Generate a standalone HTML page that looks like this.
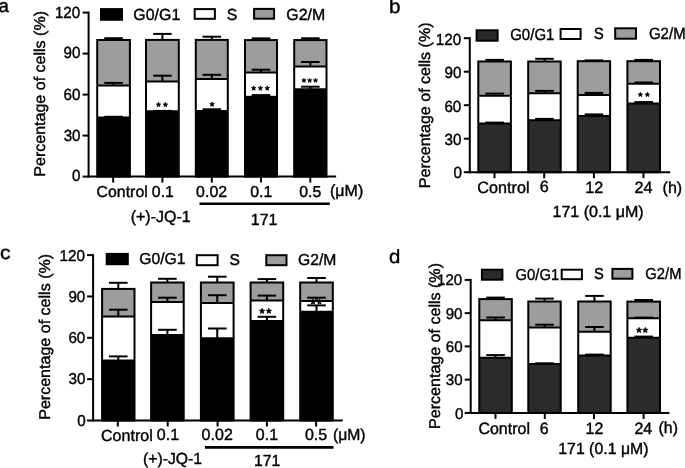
<!DOCTYPE html>
<html><head><meta charset="utf-8"><style>
html,body{margin:0;padding:0;background:#fff;}
body{width:685px;height:468px;overflow:hidden;}
svg{display:block;font-family:"Liberation Sans", sans-serif;filter:grayscale(1);} text{stroke:#000;stroke-width:4.0px;text-rendering:geometricPrecision;}
</style></head><body>
<svg width="685" height="468" viewBox="0 0 685 468">
<rect width="685" height="468" fill="#fff"/>
<rect x="97.20" y="117.50" width="32.70" height="59.10" fill="#000"/>
<rect x="97.20" y="85.60" width="32.70" height="31.90" fill="#fff"/>
<rect x="97.20" y="40.00" width="32.70" height="45.60" fill="#9d9d9d"/>
<rect x="146.00" y="111.30" width="32.80" height="65.30" fill="#000"/>
<rect x="146.00" y="81.60" width="32.80" height="29.70" fill="#fff"/>
<rect x="146.00" y="39.90" width="32.80" height="41.70" fill="#9d9d9d"/>
<rect x="195.80" y="111.00" width="32.00" height="65.60" fill="#000"/>
<rect x="195.80" y="79.00" width="32.00" height="32.00" fill="#fff"/>
<rect x="195.80" y="39.90" width="32.00" height="39.10" fill="#9d9d9d"/>
<rect x="245.00" y="96.80" width="32.00" height="79.80" fill="#000"/>
<rect x="245.00" y="72.50" width="32.00" height="24.30" fill="#fff"/>
<rect x="245.00" y="40.10" width="32.00" height="32.40" fill="#9d9d9d"/>
<rect x="294.20" y="89.20" width="32.30" height="87.40" fill="#000"/>
<rect x="294.20" y="66.50" width="32.30" height="22.70" fill="#fff"/>
<rect x="294.20" y="40.10" width="32.30" height="26.40" fill="#9d9d9d"/>
<polygon points="158.51,102.35 159.14,103.86 160.77,103.99 159.53,105.06 159.91,106.65 158.51,105.80 157.11,106.65 157.49,105.06 156.25,103.99 157.88,103.86" fill="#000" stroke="#000" stroke-width="0.7" stroke-linejoin="round"/>
<polygon points="165.39,102.35 166.02,103.86 167.65,103.99 166.41,105.06 166.79,106.65 165.39,105.80 163.99,106.65 164.37,105.06 163.13,103.99 164.76,103.86" fill="#000" stroke="#000" stroke-width="0.7" stroke-linejoin="round"/>
<polygon points="212.12,101.85 212.77,103.43 214.48,103.57 213.18,104.68 213.58,106.35 212.12,105.46 210.65,106.35 211.05,104.68 209.75,103.57 211.46,103.43" fill="#000" stroke="#000" stroke-width="0.7" stroke-linejoin="round"/>
<polygon points="253.66,85.85 254.31,87.40 255.98,87.53 254.70,88.62 255.09,90.25 253.66,89.38 252.23,90.25 252.62,88.62 251.35,87.53 253.02,87.40" fill="#000" stroke="#000" stroke-width="0.7" stroke-linejoin="round"/>
<polygon points="260.45,85.85 261.09,87.40 262.76,87.53 261.49,88.62 261.88,90.25 260.45,89.38 259.02,90.25 259.41,88.62 258.14,87.53 259.81,87.40" fill="#000" stroke="#000" stroke-width="0.7" stroke-linejoin="round"/>
<polygon points="267.24,85.85 267.88,87.40 269.55,87.53 268.28,88.62 268.67,90.25 267.24,89.38 265.81,90.25 266.20,88.62 264.92,87.53 266.59,87.40" fill="#000" stroke="#000" stroke-width="0.7" stroke-linejoin="round"/>
<polygon points="303.91,78.25 304.50,79.69 306.06,79.82 304.88,80.83 305.24,82.35 303.91,81.54 302.57,82.35 302.94,80.83 301.75,79.82 303.31,79.69" fill="#000" stroke="#000" stroke-width="0.7" stroke-linejoin="round"/>
<polygon points="309.70,78.25 310.30,79.69 311.86,79.82 310.67,80.83 311.03,82.35 309.70,81.54 308.37,82.35 308.73,80.83 307.54,79.82 309.10,79.69" fill="#000" stroke="#000" stroke-width="0.7" stroke-linejoin="round"/>
<polygon points="315.49,78.25 316.09,79.69 317.65,79.82 316.46,80.83 316.83,82.35 315.49,81.54 314.16,82.35 314.52,80.83 313.34,79.82 314.90,79.69" fill="#000" stroke="#000" stroke-width="0.7" stroke-linejoin="round"/>
<rect x="97.20" y="40.00" width="32.70" height="136.60" fill="none" stroke="#000" stroke-width="2.0"/>
<line x1="97.20" y1="85.60" x2="129.90" y2="85.60" stroke="#000" stroke-width="2.0"/>
<line x1="97.20" y1="117.50" x2="129.90" y2="117.50" stroke="#000" stroke-width="2.0"/>
<line x1="113.55" y1="40.00" x2="113.55" y2="38.20" stroke="#000" stroke-width="2.0"/>
<line x1="104.25" y1="38.20" x2="122.85" y2="38.20" stroke="#000" stroke-width="2.0"/>
<line x1="113.55" y1="85.60" x2="113.55" y2="82.90" stroke="#000" stroke-width="2.0"/>
<line x1="104.25" y1="82.90" x2="122.85" y2="82.90" stroke="#000" stroke-width="2.0"/>
<line x1="113.55" y1="117.50" x2="113.55" y2="116.80" stroke="#000" stroke-width="2.0"/>
<line x1="104.25" y1="116.80" x2="122.85" y2="116.80" stroke="#000" stroke-width="2.0"/>
<rect x="146.00" y="39.90" width="32.80" height="136.70" fill="none" stroke="#000" stroke-width="2.0"/>
<line x1="146.00" y1="81.60" x2="178.80" y2="81.60" stroke="#000" stroke-width="2.0"/>
<line x1="146.00" y1="111.30" x2="178.80" y2="111.30" stroke="#000" stroke-width="2.0"/>
<line x1="162.40" y1="39.90" x2="162.40" y2="33.90" stroke="#000" stroke-width="2.0"/>
<line x1="153.10" y1="33.90" x2="171.70" y2="33.90" stroke="#000" stroke-width="2.0"/>
<line x1="162.40" y1="81.60" x2="162.40" y2="75.70" stroke="#000" stroke-width="2.0"/>
<line x1="153.10" y1="75.70" x2="171.70" y2="75.70" stroke="#000" stroke-width="2.0"/>
<line x1="162.40" y1="111.30" x2="162.40" y2="110.90" stroke="#000" stroke-width="2.0"/>
<line x1="153.10" y1="110.90" x2="171.70" y2="110.90" stroke="#000" stroke-width="2.0"/>
<rect x="195.80" y="39.90" width="32.00" height="136.70" fill="none" stroke="#000" stroke-width="2.0"/>
<line x1="195.80" y1="79.00" x2="227.80" y2="79.00" stroke="#000" stroke-width="2.0"/>
<line x1="195.80" y1="111.00" x2="227.80" y2="111.00" stroke="#000" stroke-width="2.0"/>
<line x1="211.80" y1="39.90" x2="211.80" y2="36.70" stroke="#000" stroke-width="2.0"/>
<line x1="202.50" y1="36.70" x2="221.10" y2="36.70" stroke="#000" stroke-width="2.0"/>
<line x1="211.80" y1="79.00" x2="211.80" y2="74.80" stroke="#000" stroke-width="2.0"/>
<line x1="202.50" y1="74.80" x2="221.10" y2="74.80" stroke="#000" stroke-width="2.0"/>
<line x1="211.80" y1="111.00" x2="211.80" y2="109.30" stroke="#000" stroke-width="2.0"/>
<line x1="202.50" y1="109.30" x2="221.10" y2="109.30" stroke="#000" stroke-width="2.0"/>
<rect x="245.00" y="40.10" width="32.00" height="136.50" fill="none" stroke="#000" stroke-width="2.0"/>
<line x1="245.00" y1="72.50" x2="277.00" y2="72.50" stroke="#000" stroke-width="2.0"/>
<line x1="245.00" y1="96.80" x2="277.00" y2="96.80" stroke="#000" stroke-width="2.0"/>
<line x1="261.00" y1="40.10" x2="261.00" y2="38.40" stroke="#000" stroke-width="2.0"/>
<line x1="251.70" y1="38.40" x2="270.30" y2="38.40" stroke="#000" stroke-width="2.0"/>
<line x1="261.00" y1="72.50" x2="261.00" y2="69.70" stroke="#000" stroke-width="2.0"/>
<line x1="251.70" y1="69.70" x2="270.30" y2="69.70" stroke="#000" stroke-width="2.0"/>
<line x1="261.00" y1="96.80" x2="261.00" y2="95.10" stroke="#000" stroke-width="2.0"/>
<line x1="251.70" y1="95.10" x2="270.30" y2="95.10" stroke="#000" stroke-width="2.0"/>
<rect x="294.20" y="40.10" width="32.30" height="136.50" fill="none" stroke="#000" stroke-width="2.0"/>
<line x1="294.20" y1="66.50" x2="326.50" y2="66.50" stroke="#000" stroke-width="2.0"/>
<line x1="294.20" y1="89.20" x2="326.50" y2="89.20" stroke="#000" stroke-width="2.0"/>
<line x1="310.35" y1="40.10" x2="310.35" y2="38.30" stroke="#000" stroke-width="2.0"/>
<line x1="301.05" y1="38.30" x2="319.65" y2="38.30" stroke="#000" stroke-width="2.0"/>
<line x1="310.35" y1="66.50" x2="310.35" y2="62.00" stroke="#000" stroke-width="2.0"/>
<line x1="301.05" y1="62.00" x2="319.65" y2="62.00" stroke="#000" stroke-width="2.0"/>
<line x1="310.35" y1="89.20" x2="310.35" y2="86.70" stroke="#000" stroke-width="2.0"/>
<line x1="301.05" y1="86.70" x2="319.65" y2="86.70" stroke="#000" stroke-width="2.0"/>
<line x1="88.60" y1="11.60" x2="88.60" y2="177.60" stroke="#000" stroke-width="2.0"/>
<line x1="87.60" y1="176.60" x2="336.10" y2="176.60" stroke="#000" stroke-width="2.0"/>
<line x1="82.60" y1="176.60" x2="88.60" y2="176.60" stroke="#000" stroke-width="2.0"/>
<line x1="82.60" y1="135.60" x2="88.60" y2="135.60" stroke="#000" stroke-width="2.0"/>
<line x1="82.60" y1="94.60" x2="88.60" y2="94.60" stroke="#000" stroke-width="2.0"/>
<line x1="82.60" y1="53.60" x2="88.60" y2="53.60" stroke="#000" stroke-width="2.0"/>
<line x1="82.60" y1="12.60" x2="88.60" y2="12.60" stroke="#000" stroke-width="2.0"/>
<line x1="113.20" y1="176.60" x2="113.20" y2="182.60" stroke="#000" stroke-width="2.0"/>
<line x1="162.40" y1="176.60" x2="162.40" y2="182.60" stroke="#000" stroke-width="2.0"/>
<line x1="211.80" y1="176.60" x2="211.80" y2="182.60" stroke="#000" stroke-width="2.0"/>
<line x1="261.00" y1="176.60" x2="261.00" y2="182.60" stroke="#000" stroke-width="2.0"/>
<line x1="310.30" y1="176.60" x2="310.30" y2="182.60" stroke="#000" stroke-width="2.0"/>
<rect x="101.00" y="9.10" width="21.00" height="10.70" fill="#000" stroke="#000" stroke-width="2.0"/>
<rect x="194.70" y="9.10" width="20.20" height="9.70" fill="#fff" stroke="#000" stroke-width="2.0"/>
<rect x="254.10" y="8.90" width="20.00" height="9.80" fill="#9d9d9d" stroke="#000" stroke-width="2.0"/>
<text transform="translate(-1.39,11.92) scale(0.10038,0.10000)" font-size="186.18" fill="#000">a</text>
<text transform="translate(54.91,17.76) scale(0.09400,0.10000)" font-size="161.50">120</text>
<text transform="translate(63.60,58.46) scale(0.09400,0.10000)" font-size="161.50">90</text>
<text transform="translate(63.57,99.51) scale(0.09400,0.10000)" font-size="161.50">60</text>
<text transform="translate(63.66,140.61) scale(0.09400,0.10000)" font-size="161.50">30</text>
<text transform="translate(71.98,181.26) scale(0.09400,0.10000)" font-size="161.50">0</text>
<text transform="translate(133.34,20.20) scale(0.09900,0.10000)" font-size="161.00">G0/G1</text>
<text transform="translate(226.79,19.74) scale(0.09900,0.10000)" font-size="161.00">S</text>
<text transform="translate(286.27,20.05) scale(0.09900,0.10000)" font-size="161.00">G2/M</text>
<text transform="translate(96.50,196.98) scale(0.10000,0.10000)" font-size="159.00">Control</text>
<text transform="translate(151.85,196.97) scale(0.10000,0.10000)" font-size="159.00">0.1</text>
<text transform="translate(196.12,197.42) scale(0.10000,0.10000)" font-size="159.00">0.02</text>
<text transform="translate(250.25,197.42) scale(0.10000,0.10000)" font-size="159.00">0.1</text>
<text transform="translate(299.27,196.97) scale(0.10000,0.10000)" font-size="159.00">0.5</text>
<text transform="translate(329.96,196.39) scale(0.09900,0.10000)" font-size="162.00">(μM)</text>
<text transform="translate(130.65,222.24) scale(0.09900,0.10000)" font-size="162.00">(+)-JQ-1</text>
<text transform="translate(250.77,224.72) scale(0.09900,0.10000)" font-size="162.00">171</text>
<text transform="translate(45.00,176.71) rotate(-90) scale(0.10210,0.10000)" font-size="157.00">Percentage of cells (%)</text>
<line x1="199.50" y1="203.70" x2="329.80" y2="203.70" stroke="#000" stroke-width="2.6"/>
<rect x="478.30" y="123.50" width="32.60" height="48.70" fill="#2b2b2b"/>
<rect x="478.30" y="95.70" width="32.60" height="27.80" fill="#fff"/>
<rect x="478.30" y="61.50" width="32.60" height="34.20" fill="#9d9d9d"/>
<rect x="528.20" y="120.20" width="32.50" height="52.00" fill="#2b2b2b"/>
<rect x="528.20" y="93.30" width="32.50" height="26.90" fill="#fff"/>
<rect x="528.20" y="61.50" width="32.50" height="31.80" fill="#9d9d9d"/>
<rect x="577.70" y="116.00" width="32.40" height="56.20" fill="#2b2b2b"/>
<rect x="577.70" y="94.90" width="32.40" height="21.10" fill="#fff"/>
<rect x="577.70" y="61.20" width="32.40" height="33.70" fill="#9d9d9d"/>
<rect x="627.40" y="103.40" width="32.60" height="68.80" fill="#2b2b2b"/>
<rect x="627.40" y="83.70" width="32.60" height="19.70" fill="#fff"/>
<rect x="627.40" y="61.20" width="32.60" height="22.50" fill="#9d9d9d"/>
<polygon points="640.36,92.35 640.97,93.83 642.57,93.95 641.35,94.99 641.72,96.55 640.36,95.72 638.99,96.55 639.36,94.99 638.15,93.95 639.74,93.83" fill="#000" stroke="#000" stroke-width="0.7" stroke-linejoin="round"/>
<polygon points="647.34,92.35 647.96,93.83 649.55,93.95 648.34,94.99 648.71,96.55 647.34,95.72 645.98,96.55 646.35,94.99 645.13,93.95 646.73,93.83" fill="#000" stroke="#000" stroke-width="0.7" stroke-linejoin="round"/>
<rect x="478.30" y="61.50" width="32.60" height="110.70" fill="none" stroke="#000" stroke-width="2.0"/>
<line x1="478.30" y1="95.70" x2="510.90" y2="95.70" stroke="#000" stroke-width="2.0"/>
<line x1="478.30" y1="123.50" x2="510.90" y2="123.50" stroke="#000" stroke-width="2.0"/>
<line x1="494.60" y1="61.50" x2="494.60" y2="59.90" stroke="#000" stroke-width="2.0"/>
<line x1="485.30" y1="59.90" x2="503.90" y2="59.90" stroke="#000" stroke-width="2.0"/>
<line x1="494.60" y1="95.70" x2="494.60" y2="93.60" stroke="#000" stroke-width="2.0"/>
<line x1="485.30" y1="93.60" x2="503.90" y2="93.60" stroke="#000" stroke-width="2.0"/>
<line x1="494.60" y1="123.50" x2="494.60" y2="122.60" stroke="#000" stroke-width="2.0"/>
<line x1="485.30" y1="122.60" x2="503.90" y2="122.60" stroke="#000" stroke-width="2.0"/>
<rect x="528.20" y="61.50" width="32.50" height="110.70" fill="none" stroke="#000" stroke-width="2.0"/>
<line x1="528.20" y1="93.30" x2="560.70" y2="93.30" stroke="#000" stroke-width="2.0"/>
<line x1="528.20" y1="120.20" x2="560.70" y2="120.20" stroke="#000" stroke-width="2.0"/>
<line x1="544.45" y1="61.50" x2="544.45" y2="58.80" stroke="#000" stroke-width="2.0"/>
<line x1="535.15" y1="58.80" x2="553.75" y2="58.80" stroke="#000" stroke-width="2.0"/>
<line x1="544.45" y1="93.30" x2="544.45" y2="90.90" stroke="#000" stroke-width="2.0"/>
<line x1="535.15" y1="90.90" x2="553.75" y2="90.90" stroke="#000" stroke-width="2.0"/>
<line x1="544.45" y1="120.20" x2="544.45" y2="118.90" stroke="#000" stroke-width="2.0"/>
<line x1="535.15" y1="118.90" x2="553.75" y2="118.90" stroke="#000" stroke-width="2.0"/>
<rect x="577.70" y="61.20" width="32.40" height="111.00" fill="none" stroke="#000" stroke-width="2.0"/>
<line x1="577.70" y1="94.90" x2="610.10" y2="94.90" stroke="#000" stroke-width="2.0"/>
<line x1="577.70" y1="116.00" x2="610.10" y2="116.00" stroke="#000" stroke-width="2.0"/>
<line x1="593.90" y1="61.20" x2="593.90" y2="60.40" stroke="#000" stroke-width="2.0"/>
<line x1="584.60" y1="60.40" x2="603.20" y2="60.40" stroke="#000" stroke-width="2.0"/>
<line x1="593.90" y1="94.90" x2="593.90" y2="92.90" stroke="#000" stroke-width="2.0"/>
<line x1="584.60" y1="92.90" x2="603.20" y2="92.90" stroke="#000" stroke-width="2.0"/>
<line x1="593.90" y1="116.00" x2="593.90" y2="114.40" stroke="#000" stroke-width="2.0"/>
<line x1="584.60" y1="114.40" x2="603.20" y2="114.40" stroke="#000" stroke-width="2.0"/>
<rect x="627.40" y="61.20" width="32.60" height="111.00" fill="none" stroke="#000" stroke-width="2.0"/>
<line x1="627.40" y1="83.70" x2="660.00" y2="83.70" stroke="#000" stroke-width="2.0"/>
<line x1="627.40" y1="103.40" x2="660.00" y2="103.40" stroke="#000" stroke-width="2.0"/>
<line x1="643.70" y1="61.20" x2="643.70" y2="59.90" stroke="#000" stroke-width="2.0"/>
<line x1="634.40" y1="59.90" x2="653.00" y2="59.90" stroke="#000" stroke-width="2.0"/>
<line x1="643.70" y1="83.70" x2="643.70" y2="82.50" stroke="#000" stroke-width="2.0"/>
<line x1="634.40" y1="82.50" x2="653.00" y2="82.50" stroke="#000" stroke-width="2.0"/>
<line x1="643.70" y1="103.40" x2="643.70" y2="102.10" stroke="#000" stroke-width="2.0"/>
<line x1="634.40" y1="102.10" x2="653.00" y2="102.10" stroke="#000" stroke-width="2.0"/>
<line x1="469.80" y1="37.20" x2="469.80" y2="173.20" stroke="#000" stroke-width="2.0"/>
<line x1="468.80" y1="172.20" x2="670.20" y2="172.20" stroke="#000" stroke-width="2.0"/>
<line x1="463.80" y1="172.20" x2="469.80" y2="172.20" stroke="#000" stroke-width="2.0"/>
<line x1="463.80" y1="138.70" x2="469.80" y2="138.70" stroke="#000" stroke-width="2.0"/>
<line x1="463.80" y1="105.20" x2="469.80" y2="105.20" stroke="#000" stroke-width="2.0"/>
<line x1="463.80" y1="71.70" x2="469.80" y2="71.70" stroke="#000" stroke-width="2.0"/>
<line x1="463.80" y1="38.20" x2="469.80" y2="38.20" stroke="#000" stroke-width="2.0"/>
<line x1="494.50" y1="172.20" x2="494.50" y2="178.20" stroke="#000" stroke-width="2.0"/>
<line x1="544.20" y1="172.20" x2="544.20" y2="178.20" stroke="#000" stroke-width="2.0"/>
<line x1="593.90" y1="172.20" x2="593.90" y2="178.20" stroke="#000" stroke-width="2.0"/>
<line x1="643.50" y1="172.20" x2="643.50" y2="178.20" stroke="#000" stroke-width="2.0"/>
<rect x="476.60" y="30.30" width="21.00" height="10.40" fill="#2b2b2b" stroke="#000" stroke-width="2.0"/>
<rect x="560.60" y="29.00" width="20.00" height="10.00" fill="#fff" stroke="#000" stroke-width="2.0"/>
<rect x="615.20" y="28.30" width="20.80" height="10.40" fill="#9d9d9d" stroke="#000" stroke-width="2.0"/>
<text transform="translate(388.97,13.31) scale(0.10547,0.10000)" font-size="196.09" fill="#000">b</text>
<text transform="translate(435.71,45.23) scale(0.09400,0.10000)" font-size="162.00">120</text>
<text transform="translate(444.42,78.13) scale(0.09400,0.10000)" font-size="162.00">90</text>
<text transform="translate(444.39,111.78) scale(0.09400,0.10000)" font-size="162.00">60</text>
<text transform="translate(444.49,144.88) scale(0.09400,0.10000)" font-size="162.00">30</text>
<text transform="translate(453.52,177.98) scale(0.09400,0.10000)" font-size="162.00">0</text>
<text transform="translate(510.21,40.48) scale(0.09200,0.10000)" font-size="163.00">G0/G1</text>
<text transform="translate(593.65,39.01) scale(0.09200,0.10000)" font-size="163.00">S</text>
<text transform="translate(648.96,38.83) scale(0.09200,0.10000)" font-size="163.00">G2/M</text>
<text transform="translate(477.26,192.51) scale(0.09900,0.10000)" font-size="164.00">Control</text>
<text transform="translate(539.68,192.45) scale(0.09900,0.10000)" font-size="164.00">6</text>
<text transform="translate(585.29,192.53) scale(0.09900,0.10000)" font-size="164.00">12</text>
<text transform="translate(634.45,192.53) scale(0.09900,0.10000)" font-size="164.00">24</text>
<text transform="translate(662.56,192.57) scale(0.09950,0.10000)" font-size="161.00">(h)</text>
<text transform="translate(552.50,217.47) scale(0.09950,0.10000)" font-size="161.00">171 (0.1 μM)</text>
<text transform="translate(429.70,188.21) rotate(-90) scale(0.10210,0.10000)" font-size="157.00">Percentage of cells (%)</text>
<rect x="102.10" y="360.60" width="32.40" height="59.90" fill="#000"/>
<rect x="102.10" y="316.50" width="32.40" height="44.10" fill="#fff"/>
<rect x="102.10" y="288.90" width="32.40" height="27.60" fill="#9d9d9d"/>
<rect x="151.10" y="335.00" width="32.60" height="85.50" fill="#000"/>
<rect x="151.10" y="302.10" width="32.60" height="32.90" fill="#fff"/>
<rect x="151.10" y="282.50" width="32.60" height="19.60" fill="#9d9d9d"/>
<rect x="200.90" y="338.20" width="32.70" height="82.30" fill="#000"/>
<rect x="200.90" y="302.90" width="32.70" height="35.30" fill="#fff"/>
<rect x="200.90" y="282.50" width="32.70" height="20.40" fill="#9d9d9d"/>
<rect x="250.60" y="321.00" width="32.60" height="99.50" fill="#000"/>
<rect x="250.60" y="300.40" width="32.60" height="20.60" fill="#fff"/>
<rect x="250.60" y="282.50" width="32.60" height="17.90" fill="#9d9d9d"/>
<rect x="300.20" y="311.80" width="32.60" height="108.70" fill="#000"/>
<rect x="300.20" y="300.90" width="32.60" height="10.90" fill="#fff"/>
<rect x="300.20" y="282.50" width="32.60" height="18.40" fill="#9d9d9d"/>
<polygon points="262.08,308.25 262.84,310.08 264.82,310.24 263.31,311.52 263.77,313.45 262.08,312.42 260.39,313.45 260.85,311.52 259.35,310.24 261.32,310.08" fill="#000" stroke="#000" stroke-width="0.7" stroke-linejoin="round"/>
<polygon points="268.82,308.25 269.58,310.08 271.55,310.24 270.05,311.52 270.51,313.45 268.82,312.42 267.13,313.45 267.59,311.52 266.08,310.24 268.06,310.08" fill="#000" stroke="#000" stroke-width="0.7" stroke-linejoin="round"/>
<polygon points="313.03,299.05 313.78,300.84 315.71,301.00 314.24,302.26 314.69,304.15 313.03,303.14 311.37,304.15 311.82,302.26 310.35,301.00 312.29,300.84" fill="#000" stroke="#000" stroke-width="0.7" stroke-linejoin="round"/>
<polygon points="319.47,299.05 320.21,300.84 322.15,301.00 320.68,302.26 321.13,304.15 319.47,303.14 317.81,304.15 318.26,302.26 316.79,301.00 318.72,300.84" fill="#000" stroke="#000" stroke-width="0.7" stroke-linejoin="round"/>
<rect x="102.10" y="288.90" width="32.40" height="131.60" fill="none" stroke="#000" stroke-width="2.0"/>
<line x1="102.10" y1="316.50" x2="134.50" y2="316.50" stroke="#000" stroke-width="2.0"/>
<line x1="102.10" y1="360.60" x2="134.50" y2="360.60" stroke="#000" stroke-width="2.0"/>
<line x1="118.30" y1="288.90" x2="118.30" y2="282.80" stroke="#000" stroke-width="2.0"/>
<line x1="109.00" y1="282.80" x2="127.60" y2="282.80" stroke="#000" stroke-width="2.0"/>
<line x1="118.30" y1="316.50" x2="118.30" y2="309.70" stroke="#000" stroke-width="2.0"/>
<line x1="109.00" y1="309.70" x2="127.60" y2="309.70" stroke="#000" stroke-width="2.0"/>
<line x1="118.30" y1="360.60" x2="118.30" y2="356.40" stroke="#000" stroke-width="2.0"/>
<line x1="109.00" y1="356.40" x2="127.60" y2="356.40" stroke="#000" stroke-width="2.0"/>
<rect x="151.10" y="282.50" width="32.60" height="138.00" fill="none" stroke="#000" stroke-width="2.0"/>
<line x1="151.10" y1="302.10" x2="183.70" y2="302.10" stroke="#000" stroke-width="2.0"/>
<line x1="151.10" y1="335.00" x2="183.70" y2="335.00" stroke="#000" stroke-width="2.0"/>
<line x1="167.40" y1="282.50" x2="167.40" y2="278.80" stroke="#000" stroke-width="2.0"/>
<line x1="158.10" y1="278.80" x2="176.70" y2="278.80" stroke="#000" stroke-width="2.0"/>
<line x1="167.40" y1="302.10" x2="167.40" y2="297.70" stroke="#000" stroke-width="2.0"/>
<line x1="158.10" y1="297.70" x2="176.70" y2="297.70" stroke="#000" stroke-width="2.0"/>
<line x1="167.40" y1="335.00" x2="167.40" y2="329.80" stroke="#000" stroke-width="2.0"/>
<line x1="158.10" y1="329.80" x2="176.70" y2="329.80" stroke="#000" stroke-width="2.0"/>
<rect x="200.90" y="282.50" width="32.70" height="138.00" fill="none" stroke="#000" stroke-width="2.0"/>
<line x1="200.90" y1="302.90" x2="233.60" y2="302.90" stroke="#000" stroke-width="2.0"/>
<line x1="200.90" y1="338.20" x2="233.60" y2="338.20" stroke="#000" stroke-width="2.0"/>
<line x1="217.25" y1="282.50" x2="217.25" y2="276.70" stroke="#000" stroke-width="2.0"/>
<line x1="207.95" y1="276.70" x2="226.55" y2="276.70" stroke="#000" stroke-width="2.0"/>
<line x1="217.25" y1="302.90" x2="217.25" y2="295.20" stroke="#000" stroke-width="2.0"/>
<line x1="207.95" y1="295.20" x2="226.55" y2="295.20" stroke="#000" stroke-width="2.0"/>
<line x1="217.25" y1="338.20" x2="217.25" y2="328.50" stroke="#000" stroke-width="2.0"/>
<line x1="207.95" y1="328.50" x2="226.55" y2="328.50" stroke="#000" stroke-width="2.0"/>
<rect x="250.60" y="282.50" width="32.60" height="138.00" fill="none" stroke="#000" stroke-width="2.0"/>
<line x1="250.60" y1="300.40" x2="283.20" y2="300.40" stroke="#000" stroke-width="2.0"/>
<line x1="250.60" y1="321.00" x2="283.20" y2="321.00" stroke="#000" stroke-width="2.0"/>
<line x1="266.90" y1="282.50" x2="266.90" y2="279.10" stroke="#000" stroke-width="2.0"/>
<line x1="257.60" y1="279.10" x2="276.20" y2="279.10" stroke="#000" stroke-width="2.0"/>
<line x1="266.90" y1="300.40" x2="266.90" y2="295.60" stroke="#000" stroke-width="2.0"/>
<line x1="257.60" y1="295.60" x2="276.20" y2="295.60" stroke="#000" stroke-width="2.0"/>
<line x1="266.90" y1="321.00" x2="266.90" y2="316.80" stroke="#000" stroke-width="2.0"/>
<line x1="257.60" y1="316.80" x2="276.20" y2="316.80" stroke="#000" stroke-width="2.0"/>
<rect x="300.20" y="282.50" width="32.60" height="138.00" fill="none" stroke="#000" stroke-width="2.0"/>
<line x1="300.20" y1="300.90" x2="332.80" y2="300.90" stroke="#000" stroke-width="2.0"/>
<line x1="300.20" y1="311.80" x2="332.80" y2="311.80" stroke="#000" stroke-width="2.0"/>
<line x1="316.50" y1="282.50" x2="316.50" y2="278.00" stroke="#000" stroke-width="2.0"/>
<line x1="307.20" y1="278.00" x2="325.80" y2="278.00" stroke="#000" stroke-width="2.0"/>
<line x1="316.50" y1="300.90" x2="316.50" y2="297.70" stroke="#000" stroke-width="2.0"/>
<line x1="307.20" y1="297.70" x2="325.80" y2="297.70" stroke="#000" stroke-width="2.0"/>
<line x1="316.50" y1="311.80" x2="316.50" y2="305.40" stroke="#000" stroke-width="2.0"/>
<line x1="307.20" y1="305.40" x2="325.80" y2="305.40" stroke="#000" stroke-width="2.0"/>
<line x1="93.10" y1="254.10" x2="93.10" y2="421.50" stroke="#000" stroke-width="2.0"/>
<line x1="92.10" y1="420.50" x2="342.80" y2="420.50" stroke="#000" stroke-width="2.0"/>
<line x1="87.10" y1="420.50" x2="93.10" y2="420.50" stroke="#000" stroke-width="2.0"/>
<line x1="87.10" y1="379.15" x2="93.10" y2="379.15" stroke="#000" stroke-width="2.0"/>
<line x1="87.10" y1="337.80" x2="93.10" y2="337.80" stroke="#000" stroke-width="2.0"/>
<line x1="87.10" y1="296.45" x2="93.10" y2="296.45" stroke="#000" stroke-width="2.0"/>
<line x1="87.10" y1="255.10" x2="93.10" y2="255.10" stroke="#000" stroke-width="2.0"/>
<line x1="117.80" y1="420.50" x2="117.80" y2="426.50" stroke="#000" stroke-width="2.0"/>
<line x1="167.70" y1="420.50" x2="167.70" y2="426.50" stroke="#000" stroke-width="2.0"/>
<line x1="217.60" y1="420.50" x2="217.60" y2="426.50" stroke="#000" stroke-width="2.0"/>
<line x1="266.90" y1="420.50" x2="266.90" y2="426.50" stroke="#000" stroke-width="2.0"/>
<line x1="316.10" y1="420.50" x2="316.10" y2="426.50" stroke="#000" stroke-width="2.0"/>
<rect x="106.70" y="253.90" width="21.10" height="10.30" fill="#000" stroke="#000" stroke-width="2.0"/>
<rect x="196.80" y="255.20" width="20.80" height="10.00" fill="#fff" stroke="#000" stroke-width="2.0"/>
<rect x="266.30" y="255.20" width="20.20" height="10.00" fill="#9d9d9d" stroke="#000" stroke-width="2.0"/>
<text transform="translate(0.10,258.71) scale(0.10909,0.10000)" font-size="193.48" fill="#000">c</text>
<text transform="translate(59.54,260.92) scale(0.09650,0.10000)" font-size="157.50">120</text>
<text transform="translate(68.39,302.27) scale(0.09650,0.10000)" font-size="157.50">90</text>
<text transform="translate(68.41,343.17) scale(0.09650,0.10000)" font-size="157.50">60</text>
<text transform="translate(68.45,384.32) scale(0.09650,0.10000)" font-size="157.50">30</text>
<text transform="translate(77.22,425.62) scale(0.09650,0.10000)" font-size="157.50">0</text>
<text transform="translate(139.25,264.48) scale(0.09860,0.10000)" font-size="159.00">G0/G1</text>
<text transform="translate(229.53,265.27) scale(0.09860,0.10000)" font-size="159.00">S</text>
<text transform="translate(298.08,265.48) scale(0.09860,0.10000)" font-size="159.00">G2/M</text>
<text transform="translate(101.00,440.66) scale(0.09900,0.10000)" font-size="162.50">Control</text>
<text transform="translate(156.83,440.44) scale(0.09900,0.10000)" font-size="162.50">0.1</text>
<text transform="translate(201.58,440.09) scale(0.09900,0.10000)" font-size="162.50">0.02</text>
<text transform="translate(255.78,440.34) scale(0.09900,0.10000)" font-size="162.50">0.1</text>
<text transform="translate(304.89,440.44) scale(0.09900,0.10000)" font-size="162.50">0.5</text>
<text transform="translate(332.88,440.27) scale(0.09800,0.10000)" font-size="161.00">(μM)</text>
<text transform="translate(142.93,464.32) scale(0.09800,0.10000)" font-size="161.00">(+)-JQ-1</text>
<text transform="translate(253.93,466.29) scale(0.09800,0.10000)" font-size="161.00">171</text>
<text transform="translate(49.60,419.82) rotate(-90) scale(0.10222,0.10000)" font-size="157.00">Percentage of cells (%)</text>
<line x1="205.00" y1="447.40" x2="333.50" y2="447.40" stroke="#000" stroke-width="2.6"/>
<rect x="479.30" y="357.80" width="32.50" height="55.10" fill="#2b2b2b"/>
<rect x="479.30" y="320.30" width="32.50" height="37.50" fill="#fff"/>
<rect x="479.30" y="299.10" width="32.50" height="21.20" fill="#9d9d9d"/>
<rect x="528.30" y="364.00" width="32.40" height="48.90" fill="#2b2b2b"/>
<rect x="528.30" y="327.50" width="32.40" height="36.50" fill="#fff"/>
<rect x="528.30" y="301.50" width="32.40" height="26.00" fill="#9d9d9d"/>
<rect x="578.20" y="355.50" width="32.50" height="57.40" fill="#2b2b2b"/>
<rect x="578.20" y="331.80" width="32.50" height="23.70" fill="#fff"/>
<rect x="578.20" y="301.50" width="32.50" height="30.30" fill="#9d9d9d"/>
<rect x="627.40" y="337.80" width="32.60" height="75.10" fill="#2b2b2b"/>
<rect x="627.40" y="318.30" width="32.60" height="19.50" fill="#fff"/>
<rect x="627.40" y="301.60" width="32.60" height="16.70" fill="#9d9d9d"/>
<polygon points="638.98,327.35 639.74,329.18 641.72,329.34 640.21,330.62 640.67,332.55 638.98,331.52 637.29,332.55 637.75,330.62 636.25,329.34 638.22,329.18" fill="#000" stroke="#000" stroke-width="0.7" stroke-linejoin="round"/>
<polygon points="645.32,327.35 646.08,329.18 648.05,329.34 646.55,330.62 647.01,332.55 645.32,331.52 643.63,332.55 644.09,330.62 642.58,329.34 644.56,329.18" fill="#000" stroke="#000" stroke-width="0.7" stroke-linejoin="round"/>
<rect x="479.30" y="299.10" width="32.50" height="113.80" fill="none" stroke="#000" stroke-width="2.0"/>
<line x1="479.30" y1="320.30" x2="511.80" y2="320.30" stroke="#000" stroke-width="2.0"/>
<line x1="479.30" y1="357.80" x2="511.80" y2="357.80" stroke="#000" stroke-width="2.0"/>
<line x1="495.55" y1="299.10" x2="495.55" y2="297.60" stroke="#000" stroke-width="2.0"/>
<line x1="486.25" y1="297.60" x2="504.85" y2="297.60" stroke="#000" stroke-width="2.0"/>
<line x1="495.55" y1="320.30" x2="495.55" y2="317.50" stroke="#000" stroke-width="2.0"/>
<line x1="486.25" y1="317.50" x2="504.85" y2="317.50" stroke="#000" stroke-width="2.0"/>
<line x1="495.55" y1="357.80" x2="495.55" y2="355.10" stroke="#000" stroke-width="2.0"/>
<line x1="486.25" y1="355.10" x2="504.85" y2="355.10" stroke="#000" stroke-width="2.0"/>
<rect x="528.30" y="301.50" width="32.40" height="111.40" fill="none" stroke="#000" stroke-width="2.0"/>
<line x1="528.30" y1="327.50" x2="560.70" y2="327.50" stroke="#000" stroke-width="2.0"/>
<line x1="528.30" y1="364.00" x2="560.70" y2="364.00" stroke="#000" stroke-width="2.0"/>
<line x1="544.50" y1="301.50" x2="544.50" y2="298.60" stroke="#000" stroke-width="2.0"/>
<line x1="535.20" y1="298.60" x2="553.80" y2="298.60" stroke="#000" stroke-width="2.0"/>
<line x1="544.50" y1="327.50" x2="544.50" y2="324.70" stroke="#000" stroke-width="2.0"/>
<line x1="535.20" y1="324.70" x2="553.80" y2="324.70" stroke="#000" stroke-width="2.0"/>
<line x1="544.50" y1="364.00" x2="544.50" y2="363.30" stroke="#000" stroke-width="2.0"/>
<line x1="535.20" y1="363.30" x2="553.80" y2="363.30" stroke="#000" stroke-width="2.0"/>
<rect x="578.20" y="301.50" width="32.50" height="111.40" fill="none" stroke="#000" stroke-width="2.0"/>
<line x1="578.20" y1="331.80" x2="610.70" y2="331.80" stroke="#000" stroke-width="2.0"/>
<line x1="578.20" y1="355.50" x2="610.70" y2="355.50" stroke="#000" stroke-width="2.0"/>
<line x1="594.45" y1="301.50" x2="594.45" y2="295.90" stroke="#000" stroke-width="2.0"/>
<line x1="585.15" y1="295.90" x2="603.75" y2="295.90" stroke="#000" stroke-width="2.0"/>
<line x1="594.45" y1="331.80" x2="594.45" y2="327.00" stroke="#000" stroke-width="2.0"/>
<line x1="585.15" y1="327.00" x2="603.75" y2="327.00" stroke="#000" stroke-width="2.0"/>
<line x1="594.45" y1="355.50" x2="594.45" y2="354.60" stroke="#000" stroke-width="2.0"/>
<line x1="585.15" y1="354.60" x2="603.75" y2="354.60" stroke="#000" stroke-width="2.0"/>
<rect x="627.40" y="301.60" width="32.60" height="111.30" fill="none" stroke="#000" stroke-width="2.0"/>
<line x1="627.40" y1="318.30" x2="660.00" y2="318.30" stroke="#000" stroke-width="2.0"/>
<line x1="627.40" y1="337.80" x2="660.00" y2="337.80" stroke="#000" stroke-width="2.0"/>
<line x1="643.70" y1="301.60" x2="643.70" y2="300.00" stroke="#000" stroke-width="2.0"/>
<line x1="634.40" y1="300.00" x2="653.00" y2="300.00" stroke="#000" stroke-width="2.0"/>
<line x1="643.70" y1="318.30" x2="643.70" y2="317.60" stroke="#000" stroke-width="2.0"/>
<line x1="634.40" y1="317.60" x2="653.00" y2="317.60" stroke="#000" stroke-width="2.0"/>
<line x1="643.70" y1="337.80" x2="643.70" y2="336.60" stroke="#000" stroke-width="2.0"/>
<line x1="634.40" y1="336.60" x2="653.00" y2="336.60" stroke="#000" stroke-width="2.0"/>
<line x1="470.70" y1="278.90" x2="470.70" y2="413.90" stroke="#000" stroke-width="2.0"/>
<line x1="469.70" y1="412.90" x2="669.50" y2="412.90" stroke="#000" stroke-width="2.0"/>
<line x1="464.70" y1="412.90" x2="470.70" y2="412.90" stroke="#000" stroke-width="2.0"/>
<line x1="464.70" y1="379.65" x2="470.70" y2="379.65" stroke="#000" stroke-width="2.0"/>
<line x1="464.70" y1="346.40" x2="470.70" y2="346.40" stroke="#000" stroke-width="2.0"/>
<line x1="464.70" y1="313.15" x2="470.70" y2="313.15" stroke="#000" stroke-width="2.0"/>
<line x1="464.70" y1="279.90" x2="470.70" y2="279.90" stroke="#000" stroke-width="2.0"/>
<line x1="495.50" y1="412.90" x2="495.50" y2="418.90" stroke="#000" stroke-width="2.0"/>
<line x1="544.80" y1="412.90" x2="544.80" y2="418.90" stroke="#000" stroke-width="2.0"/>
<line x1="594.00" y1="412.90" x2="594.00" y2="418.90" stroke="#000" stroke-width="2.0"/>
<line x1="643.60" y1="412.90" x2="643.60" y2="418.90" stroke="#000" stroke-width="2.0"/>
<rect x="481.90" y="269.70" width="20.50" height="10.00" fill="#2b2b2b" stroke="#000" stroke-width="2.0"/>
<rect x="561.70" y="269.70" width="20.20" height="9.50" fill="#fff" stroke="#000" stroke-width="2.0"/>
<rect x="612.40" y="268.90" width="20.00" height="9.80" fill="#9d9d9d" stroke="#000" stroke-width="2.0"/>
<text transform="translate(389.04,262.61) scale(0.10655,0.10000)" font-size="192.00" fill="#000">d</text>
<text transform="translate(436.99,284.62) scale(0.09800,0.10000)" font-size="154.50">120</text>
<text transform="translate(445.67,318.72) scale(0.09800,0.10000)" font-size="154.50">90</text>
<text transform="translate(445.74,352.02) scale(0.09800,0.10000)" font-size="154.50">60</text>
<text transform="translate(445.84,385.02) scale(0.09800,0.10000)" font-size="154.50">30</text>
<text transform="translate(455.09,419.02) scale(0.09800,0.10000)" font-size="154.50">0</text>
<text transform="translate(515.56,279.88) scale(0.09300,0.10000)" font-size="159.00">G0/G1</text>
<text transform="translate(594.02,279.47) scale(0.09300,0.10000)" font-size="159.00">S</text>
<text transform="translate(645.36,279.48) scale(0.09300,0.10000)" font-size="159.00">G2/M</text>
<text transform="translate(478.38,433.75) scale(0.09700,0.10000)" font-size="165.00">Control</text>
<text transform="translate(539.74,433.68) scale(0.09700,0.10000)" font-size="165.00">6</text>
<text transform="translate(585.48,433.76) scale(0.09700,0.10000)" font-size="165.00">12</text>
<text transform="translate(634.38,433.76) scale(0.09700,0.10000)" font-size="165.00">24</text>
<text transform="translate(658.55,432.94) scale(0.09800,0.10000)" font-size="162.00">(h)</text>
<text transform="translate(558.22,454.09) scale(0.09800,0.10000)" font-size="162.00">171 (0.1 μM)</text>
<text transform="translate(439.80,428.92) rotate(-90) scale(0.10222,0.10000)" font-size="157.00">Percentage of cells (%)</text>
</svg>
</body></html>
